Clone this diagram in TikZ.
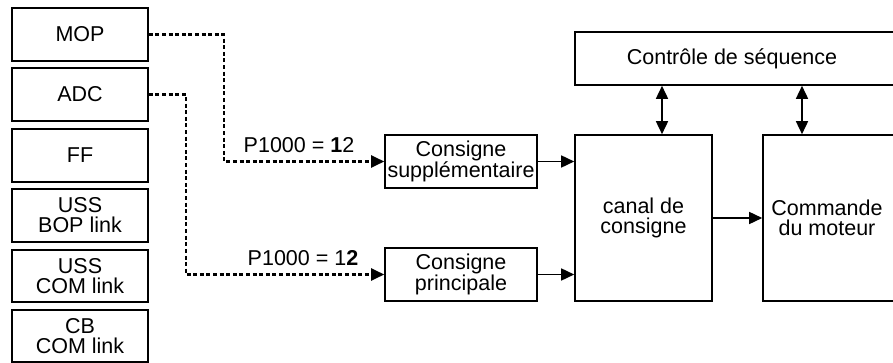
\documentclass[tikz,border=0pt]{standalone}
\usepackage{fontspec}
\setmainfont{Liberation Sans}
\usetikzlibrary{arrows.meta,calc}
\begin{document}
\begin{tikzpicture}[x=1pt,y=-1pt,
  every node/.style={font=\fontsize{21.5}{20}\selectfont},
  box/.style={draw,line width=1.6pt,align=center,inner sep=0pt,minimum width=#1},
  box/.default=136pt,
  txt/.style={align=center,inner sep=0pt},
  arr/.style={line width=1.6pt,-{Triangle[length=13pt,width=12pt]}},
  darr/.style={line width=1.6pt,{Triangle[length=13pt,width=12pt]}-{Triangle[length=13pt,width=12pt]}},
  dline/.style={line width=2.2pt,dash pattern=on 4pt off 2.6pt,-{Triangle[length=13pt,width=12pt]}}
]
\useasboundingbox (0,0) rectangle (893,363);
% left column
\node[box,minimum height=53pt] (mop) at (80,34.5) {MOP};
\node[box,minimum height=53pt] (adc) at (80,94.5) {ADC};
\node[box,minimum height=53pt] (ff) at (80,155.5) {FF};
\node[box,minimum height=53pt] (ussbop) at (80,215.5) {USS\\BOP link};
\node[box,minimum height=52pt] (usscom) at (80,276) {USS\\COM link};
\node[box,minimum height=52pt] (cbcom) at (80,336) {CB\\COM link};
% setpoint boxes
\node[box=152pt,minimum height=53pt] (sup) at (461,161.5) {Consigne\\supplémentaire};
\node[box=152pt,minimum height=53pt] (princ) at (461,274.5) {Consigne\\principale};
\node[box=137pt,minimum height=166pt] (canal) at (643.5,218) {canal de\\consigne};
\node[box=137pt,minimum height=166pt] (cmd) at (831.5,218) {};
\node[txt] (cmdtxt) at (827,218) {Commande\\du moteur};
\node[box=330pt,minimum height=53pt] (ctrl) at (740,58.5) {};
\node[txt] (ctrltxt) at (732,58.5) {Contrôle de séquence};
% labels
\node[txt] (lab1) at (299,145) {P1000 = \textbf{1}2};
\node[txt] (lab2) at (303,258) {P1000 = 1\textbf{2}};
% dashed connectors
\draw[dline] (mop.east) -- ++(75,0) |- (sup.west);
\draw[dline] (adc.east) -- ++(37,0) |- (princ.west);
% solid connectors
\draw[arr] (sup.east) -- (sup.east -| canal.west);
\draw[arr] (princ.east) -- (princ.east -| canal.west);
\draw[arr] (canal.east) -- (canal.east -| cmd.west);
\draw[darr] ([xshift=18.5pt]canal.north) -- ([xshift=18.5pt]canal.north |- ctrl.south);
\draw[darr] ([xshift=-29.5pt]cmd.north) -- ([xshift=-29.5pt]cmd.north |- ctrl.south);
\end{tikzpicture}
\end{document}
